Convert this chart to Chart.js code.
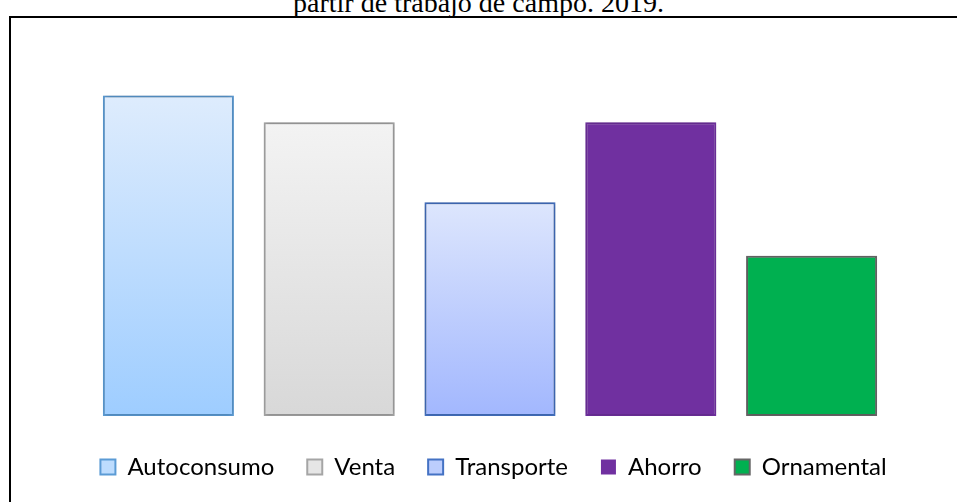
<!DOCTYPE html>
<html>
<head>
<meta charset="utf-8">
<script src="https://cdn.jsdelivr.net/npm/chart.js@4"></script>
<style>
  html, body { margin: 0; padding: 0; background: #fff; overflow: hidden; }
  #wrap { position: relative; width: 957px; height: 502px; }
  #title {
    position: absolute; left: 0; width: 957px; top: -11px;
    text-align: center; font: 28px/28px "Liberation Serif", "Times New Roman", serif; color: #000;
  }
  #frame {
    position: absolute; left: 9px; top: 16px; width: 960px; height: 500px;
    border: 2px solid #000;
  }
  canvas { position: absolute; left: 0; top: 0; }
</style>
</head>
<body>
<div id="wrap">
  <div id="title">partir de trabajo de campo. 2019.</div>
  <div id="frame"></div>
  <canvas id="usosChart" width="957" height="502"></canvas>
</div>
<script>
// categories and values
let categories = ["Autoconsumo", "Venta", "Transporte", "Ahorro", "Ornamental"];
let values = [12, 11, 8, 11, 6];

// fill styles: top colour, bottom colour, border colour, legend box colour
let topColors = ['#deecfd', '#f3f3f3', '#dde6fd', '#7030a0', '#00b050'];
let bottomColors = ['#9ecdff', '#d8d8d8', '#a2b7fe', '#7030a0', '#00b050'];
let borderColors = ['#5b9bd5', '#a5a5a5', '#4472c4', '#7030a0', '#666666'];
let legendColors = ['#bddcfe', '#e6e6e6', '#bccdfd', '#7030a0', '#00b050'];

function barGradient(i) {
    return function (context) {
        let chart = context.chart;
        if (!chart.chartArea) return bottomColors[i];
        let y = chart.scales.y;
        let g = chart.ctx.createLinearGradient(0, y.getPixelForValue(values[i]), 0, y.getPixelForValue(0));
        g.addColorStop(0, topColors[i]);
        g.addColorStop(1, bottomColors[i]);
        return g;
    };
}

// one dataset per category so the legend lists them, stacked so each bar sits centred
let datasets = categories.map(function (name, i) {
    return {
        label: name,
        data: categories.map(function (c, j) { return j === i ? values[i] : null; }),
        backgroundColor: barGradient(i),
        borderColor: borderColors[i],
        borderWidth: 2,
        borderSkipped: false,
        categoryPercentage: 1,
        barPercentage: 0.815
    };
});

// soft shadow behind the bars
let barShadow = {
    id: 'barShadow',
    beforeDatasetsDraw: function (chart) {
        let ctx = chart.ctx;
        ctx.save();
        ctx.shadowColor = 'rgba(0,0,0,0.28)';
        ctx.shadowBlur = 5;
    },
    afterDatasetsDraw: function (chart) {
        chart.ctx.restore();
    }
};

// invisible axes that only reserve room around the plot
function spacer(prop, size) {
    return {
        grid: { display: false },
        border: { display: false },
        ticks: { display: false },
        afterFit: function (scale) { scale[prop] = size; }
    };
}

let ctxUsos = document.getElementById('usosChart').getContext('2d');

var chartUsos = new Chart(ctxUsos, {
    type: 'bar',
    data: {
        labels: categories,
        datasets: datasets
    },
    options: {
        responsive: false,
        animation: false,
        layout: {
            padding: { left: 30, right: 0, top: 42, bottom: 13 }
        },
        scales: {
            x: Object.assign({ stacked: true }, spacer('height', 6)),
            y: Object.assign({ stacked: true, min: 0, max: 14 }, spacer('width', 58)),
            yRight: Object.assign({ position: 'right', min: 0, max: 14 }, spacer('width', 65))
        },
        plugins: {
            legend: {
                position: 'bottom',
                labels: {
                    boxWidth: 15,
                    boxHeight: 15,
                    padding: 33,
                    color: '#000',
                    font: { family: 'Lato', size: 24 },
                    generateLabels: function (chart) {
                        return categories.map(function (name, i) {
                            return {
                                text: name,
                                fillStyle: legendColors[i],
                                strokeStyle: borderColors[i],
                                lineWidth: i === 3 ? 0 : 2,
                                datasetIndex: i,
                                hidden: false
                            };
                        });
                    }
                }
            },
            tooltip: { enabled: false }
        }
    },
    plugins: [barShadow]
});
</script>
</body>
</html>
